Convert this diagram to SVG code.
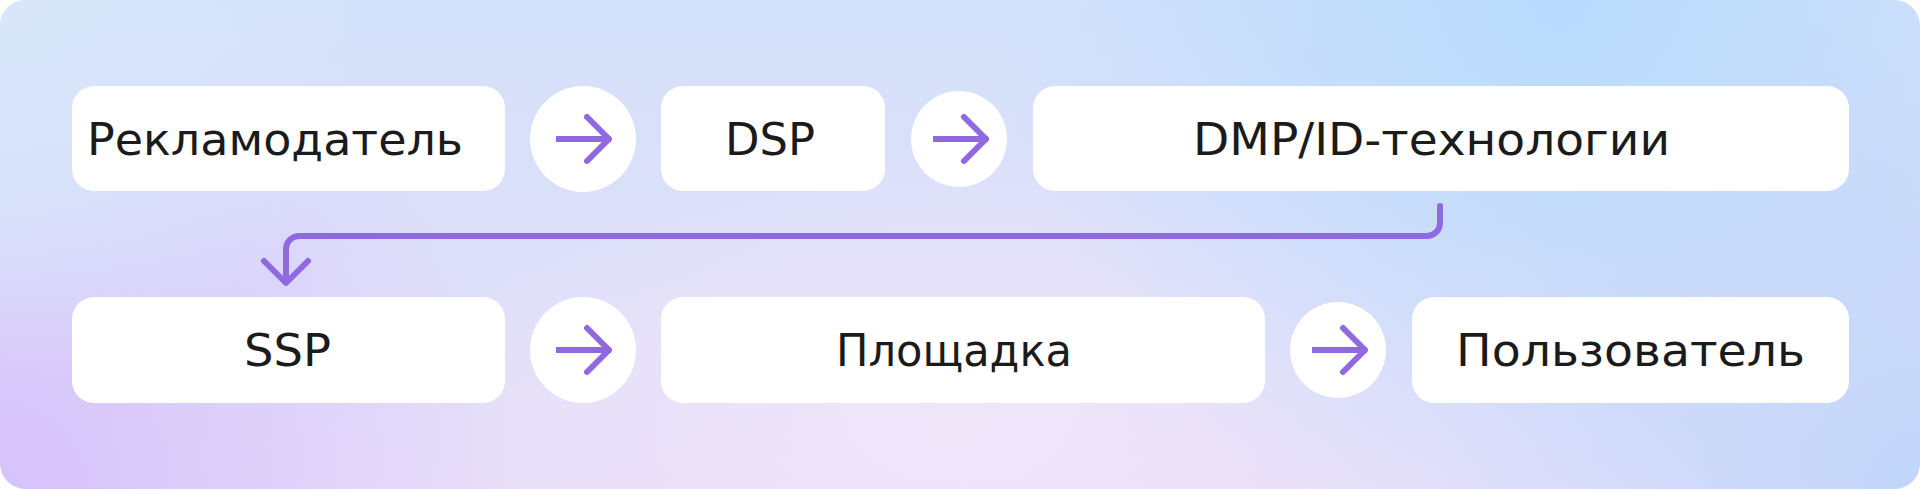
<svg xmlns="http://www.w3.org/2000/svg" width="1920" height="489" viewBox="0 0 1920 489">
  <defs>
    <linearGradient id="bgBase" x1="0" y1="0" x2="0" y2="1">
      <stop offset="0" stop-color="#d3e1fa"/>
      <stop offset="1" stop-color="#e7def9"/>
    </linearGradient>
    <radialGradient id="gPurple" cx="0" cy="489" r="520" gradientUnits="userSpaceOnUse">
      <stop offset="0" stop-color="#d6c2fb" stop-opacity="1"/>
      <stop offset="1" stop-color="#d6c2fb" stop-opacity="0"/>
    </radialGradient>
    <radialGradient id="gBlueTR" cx="1560" cy="0" r="560" gradientUnits="userSpaceOnUse">
      <stop offset="0" stop-color="#b8dbfd" stop-opacity="1"/>
      <stop offset="1" stop-color="#b8dbfd" stop-opacity="0"/>
    </radialGradient>
    <radialGradient id="gBlueBR" cx="1920" cy="489" r="480" gradientUnits="userSpaceOnUse">
      <stop offset="0" stop-color="#c0d6fa" stop-opacity="1"/>
      <stop offset="1" stop-color="#c0d6fa" stop-opacity="0"/>
    </radialGradient>
    <radialGradient id="gCenter" cx="960" cy="430" r="560" gradientUnits="userSpaceOnUse" gradientTransform="translate(960 430) scale(1 0.5) translate(-960 -430)">
      <stop offset="0" stop-color="#f0e6fa" stop-opacity="1"/>
      <stop offset="1" stop-color="#f0e6fa" stop-opacity="0"/>
    </radialGradient>
    <radialGradient id="gTL" cx="0" cy="0" r="380" gradientUnits="userSpaceOnUse">
      <stop offset="0" stop-color="#d8e6fa" stop-opacity="1"/>
      <stop offset="0.5" stop-color="#d8e6fa" stop-opacity="0.8"/>
      <stop offset="1" stop-color="#d8e6fa" stop-opacity="0"/>
    </radialGradient>
    <clipPath id="bgClip">
      <rect x="0" y="0" width="1920" height="489" rx="26" ry="26"/>
    </clipPath>
    <g id="arrowIcon">
      <path d="M -27 0 H 28" fill="none" stroke="#9068e0" stroke-width="6" stroke-linecap="butt"/>
      <path d="M 4 -22 L 26 0 L 4 22" fill="none" stroke="#9068e0" stroke-width="6" stroke-linecap="round" stroke-linejoin="round"/>
    </g>
  </defs>
  <style>
    .box { fill: #ffffff; }
    .circ { fill: #ffffff; }
    .lbl { font-family: "DejaVu Sans", "Noto Sans", sans-serif; font-size: 44px; fill: #1b1b1b; }
    .conn { fill: none; stroke: #9068e0; stroke-width: 6; stroke-linecap: round; stroke-linejoin: round; }
  </style>

  <g id="background" clip-path="url(#bgClip)">
    <rect x="0" y="0" width="1920" height="489" fill="url(#bgBase)"/>
    <rect x="0" y="0" width="1920" height="489" fill="url(#gCenter)"/>
    <rect x="0" y="0" width="1920" height="489" fill="url(#gPurple)"/>
    <rect x="0" y="0" width="1920" height="489" fill="url(#gTL)"/>
    <rect x="0" y="0" width="1920" height="489" fill="url(#gBlueTR)"/>
    <rect x="0" y="0" width="1920" height="489" fill="url(#gBlueBR)"/>
  </g>

  <g id="connectors">
    <path class="conn" d="M 1440 206 V 223 A 13 13 0 0 1 1427 236 H 299 A 13 13 0 0 0 286 249 V 282"/>
    <path class="conn" d="M 264 261 L 286 283 L 308 261"/>
  </g>

  <g id="node-advertiser">
    <rect class="box" x="72" y="86" width="433" height="105" rx="22"/>
    <text class="lbl" x="87" y="155" textLength="376" lengthAdjust="spacingAndGlyphs">Рекламодатель</text>
  </g>
  <g id="arrow-1">
    <circle class="circ" cx="583" cy="139" r="53"/>
    <use href="#arrowIcon" x="583" y="139"/>
  </g>
  <g id="node-dsp">
    <rect class="box" x="661" y="86" width="224" height="105" rx="22"/>
    <text class="lbl" x="725" y="155" textLength="90" lengthAdjust="spacingAndGlyphs">DSP</text>
  </g>
  <g id="arrow-2">
    <circle class="circ" cx="959" cy="139" r="48"/>
    <use href="#arrowIcon" x="960" y="139"/>
  </g>
  <g id="node-dmp">
    <rect class="box" x="1033" y="86" width="816" height="105" rx="22"/>
    <text class="lbl" x="1193" y="155" textLength="477" lengthAdjust="spacingAndGlyphs">DMP/ID-технологии</text>
  </g>

  <g id="node-ssp">
    <rect class="box" x="72" y="297" width="433" height="106" rx="22"/>
    <text class="lbl" x="244" y="366" textLength="87" lengthAdjust="spacingAndGlyphs">SSP</text>
  </g>
  <g id="arrow-3">
    <circle class="circ" cx="583" cy="350" r="53"/>
    <use href="#arrowIcon" x="583" y="350"/>
  </g>
  <g id="node-platform">
    <rect class="box" x="661" y="297" width="604" height="106" rx="22"/>
    <text class="lbl" x="836" y="366" textLength="236" lengthAdjust="spacingAndGlyphs">Площадка</text>
  </g>
  <g id="arrow-4">
    <circle class="circ" cx="1338" cy="350" r="48"/>
    <use href="#arrowIcon" x="1339" y="350"/>
  </g>
  <g id="node-user">
    <rect class="box" x="1412" y="297" width="437" height="106" rx="22"/>
    <text class="lbl" x="1456" y="366" textLength="349" lengthAdjust="spacingAndGlyphs">Пользователь</text>
  </g>
</svg>
